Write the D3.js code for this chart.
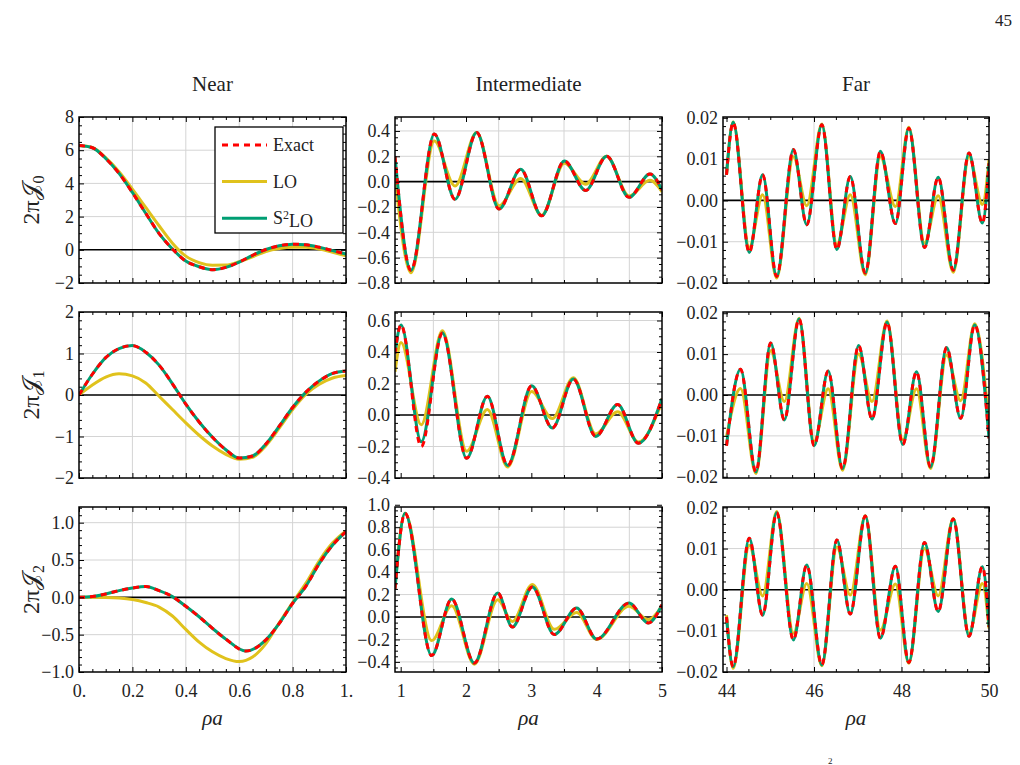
<!DOCTYPE html>
<meta charset="utf-8">
<title>Near / Intermediate / Far</title>
<style>
body { margin: 0; background: #fff; }
svg { font-family: "Liberation Serif", "DejaVu Serif", serif; }
.grid line { stroke: #d4d4d4; stroke-width: 1; }
.frame { fill: none; stroke: #000; stroke-width: 1.5; }
.zero { stroke: #000; stroke-width: 1.6; }
.axis text { font-family: "Liberation Serif", "DejaVu Serif", serif; font-size: 18px; fill: #222; }
.axis line { stroke: #000; stroke-width: 1; }
.lo { fill: none; stroke: #e0c21c; stroke-width: 3; }
.s2lo { fill: none; stroke: #009e73; stroke-width: 3; }
.exact { fill: none; stroke: #ff0000; stroke-width: 3; stroke-dasharray: 6,5; }
.title { font-size: 21px; text-anchor: middle; fill: #222; }
.xlab { font-size: 21px; font-style: italic; text-anchor: middle; fill: #222; }
.ylab { font-size: 24px; text-anchor: middle; fill: #222; }
.leg { font-size: 18px; fill: #222; }
</style>
<body>
<script src="https://d3js.org/d3.v7.min.js"></script>
<script>

// ---- data ----
var columns = ["Near", "Intermediate", "Far"];

// near field, 0 <= rho a <= 1
var nearX = [0, 0.05, 0.1, 0.15, 0.2, 0.25, 0.3, 0.35, 0.4, 0.45, 0.5,
             0.55, 0.6, 0.65, 0.7, 0.75, 0.8, 0.85, 0.9, 0.95, 1];
var nearJ0Exact = [6.28, 6.15, 5.5, 4.6, 3.45, 2.2, 0.98, 0.05, -0.68, -1.02, -1.2,
                   -1.06, -0.74, -0.33, 0.02, 0.24, 0.34, 0.3, 0.15, -0.05, -0.25];
var nearJ0LO = [6.28, 6.16, 5.55, 4.7, 3.65, 2.55, 1.45, 0.4, -0.38, -0.77, -0.93,
                -0.92, -0.72, -0.42, -0.1, 0.08, 0.16, 0.16, 0.05, -0.15, -0.36];
var nearJ1Exact = [0, 0.5, 0.9, 1.12, 1.19, 1.03, 0.72, 0.27, -0.22, -0.65, -1.02,
                   -1.32, -1.52, -1.47, -1.18, -0.75, -0.3, 0.07, 0.34, 0.52, 0.58];
var nearJ1LO = [0, 0.24, 0.43, 0.51, 0.46, 0.29, -0.03, -0.35, -0.67, -0.97, -1.23,
                -1.43, -1.55, -1.5, -1.22, -0.8, -0.35, 0.02, 0.26, 0.41, 0.47];
// J2 exact has its minimum between the regular samples
var nearJ2X = [0, 0.05, 0.1, 0.15, 0.2, 0.25, 0.3, 0.35, 0.4, 0.45, 0.5,
               0.55, 0.625, 0.7, 0.75, 0.8, 0.85, 0.9, 0.95, 1];
var nearJ2Exact = [0, 0.01, 0.045, 0.09, 0.125, 0.145, 0.09, 0.01, -0.12, -0.26, -0.415,
                   -0.56, -0.72, -0.57, -0.35, -0.08, 0.15, 0.455, 0.7, 0.88];
var nearJ2LO = [0, 0, -0.002, -0.01, -0.03, -0.07, -0.13, -0.25, -0.43, -0.6, -0.73,
                -0.82, -0.86, -0.8, -0.62, -0.34, -0.07, 0.19, 0.49, 0.73, 0.89];

// intermediate field: turning points of the curves
var intJ0X = [0.913, 1.158, 1.515, 1.832, 2.163, 2.505, 2.837, 3.158, 3.505, 3.832, 4.153, 4.495, 4.816, 5.0];
var intJ0Exact = [0.2, -0.70, 0.376, -0.14, 0.387, -0.216, 0.097, -0.27, 0.163, -0.07, 0.2, -0.124, 0.06, -0.066];
var intJ0LO = [0.04, -0.72, 0.32, -0.035, 0.387, -0.19, 0.025, -0.265, 0.145, -0.02, 0.2, -0.113, 0.01, -0.08];

var intJ1X = [0.913, 1.005, 1.315, 1.638, 2.01, 2.327, 2.638, 3.005, 3.321, 3.643, 3.985, 4.321, 4.638, 5.0];
var intJ1Exact = [0.39, 0.572, -0.2, 0.52, -0.275, 0.119, -0.32, 0.185, -0.083, 0.228, -0.136, 0.066, -0.179, 0.104];
var intJ1S2LO = [0.39, 0.572, -0.17, 0.52, -0.275, 0.119, -0.32, 0.185, -0.083, 0.228, -0.136, 0.066, -0.179, 0.104];
var intJ1LO = [0.274, 0.46, -0.062, 0.535, -0.23, 0.035, -0.33, 0.15, -0.023, 0.236, -0.12, 0.02, -0.172, 0.083];

var intJ2X = [0.913, 1.066, 1.474, 1.781, 2.128, 2.485, 2.709, 3.015, 3.352, 3.694, 4.0, 4.495, 4.791, 5.0];
var intJ2Exact = [0.25, 0.924, -0.344, 0.16, -0.41, 0.213, -0.09, 0.267, -0.157, 0.08, -0.196, 0.124, -0.053, 0.11];
var intJ2LO = [0.27, 0.924, -0.21, 0.1, -0.42, 0.154, -0.04, 0.29, -0.11, 0.04, -0.2, 0.095, -0.024, 0.1];

// far field: turning points of the curves
var farJ0X = [44.0, 44.153, 44.52, 44.826, 45.147, 45.529, 45.835, 46.179, 46.523, 46.829,
              47.173, 47.517, 47.861, 48.167, 48.526, 48.839, 49.183, 49.543, 49.849, 50.0];
var farJ0Exact = [0.0062, 0.0189, -0.0126, 0.0062, -0.0184, 0.0123, -0.0059, 0.0183, -0.0119, 0.0058,
                  -0.0176, 0.0119, -0.0056, 0.0175, -0.0114, 0.0056, -0.0169, 0.0115, -0.0055, 0.009];
var farJ0LO = [0.0062, 0.019, -0.0114, 0.0014, -0.0188, 0.0106, -0.0013, 0.0185, -0.0107, 0.0014,
               -0.018, 0.0106, -0.0015, 0.0177, -0.0103, 0.0011, -0.0174, 0.0106, -0.001, 0.0098];

var farJ1X = [44.0, 44.321, 44.673, 45.009, 45.323, 45.659, 46.003, 46.324, 46.653, 47.02,
              47.326, 47.67, 48.029, 48.343, 48.664, 49.031, 49.352, 49.673, 50.0];
var farJ1Exact = [-0.0124, 0.0063, -0.0188, 0.0127, -0.0061, 0.0186, -0.0124, 0.0059, -0.018, 0.0121,
                  -0.0059, 0.0178, -0.0121, 0.0057, -0.0176, 0.0116, -0.0057, 0.0171, -0.0106];
var farJ1LO = [-0.0102, 0.0016, -0.0192, 0.0108, -0.0016, 0.0188, -0.0114, 0.0015, -0.0184, 0.01,
               -0.0016, 0.0181, -0.011, 0.0015, -0.018, 0.0098, -0.0014, 0.0174, -0.007];

var farJ2X = [44.0, 44.153, 44.52, 44.826, 45.147, 45.529, 45.835, 46.179, 46.523, 46.829,
              47.173, 47.517, 47.861, 48.167, 48.526, 48.839, 49.183, 49.543, 49.849, 50.0];
var farJ2Exact = [-0.0066, -0.0187, 0.0125, -0.0062, 0.0187, -0.0122, 0.006, -0.0183, 0.0121, -0.0059,
                  0.0179, -0.0118, 0.0057, -0.0177, 0.0115, -0.0053, 0.0172, -0.0113, 0.0056, -0.009];
var farJ2LO = [-0.0062, -0.0191, 0.0108, -0.0015, 0.019, -0.0106, 0.0015, -0.0185, 0.0104, -0.0013,
               0.018, -0.0098, 0.0014, -0.0179, 0.01, -0.0015, 0.0173, -0.0106, 0.0015, -0.0094];

// tick values
var nearXTicks = [0, 0.2, 0.4, 0.6, 0.8, 1];
var intXTicks = [1, 2, 3, 4, 5];
var farXTicks = [44, 46, 48, 50];
var nearJ0YTicks = [-2, 0, 2, 4, 6, 8];
var nearJ1YTicks = [-2, -1, 0, 1, 2];
var nearJ2YTicks = [-1, -0.5, 0, 0.5, 1];
var intJ0YTicks = [-0.8, -0.6, -0.4, -0.2, 0, 0.2, 0.4];
var intJ1YTicks = [-0.4, -0.2, 0, 0.2, 0.4, 0.6];
var intJ2YTicks = [-0.4, -0.2, 0, 0.2, 0.4, 0.6, 0.8, 1.0];
var farYTicks = [-0.02, -0.01, 0, 0.01, 0.02];

// ---- layout ----
var colLeft = [79, 395, 723], colRight = [346, 662, 989];
var rowTop = [117, 312, 507], rowBottom = [283, 478, 672];

var fmt1 = d3.format(".1f"), fmt2 = d3.format(".2f"), fmtD = d3.format("d");

var cols = [
  {domain: [0, 1], major: nearXTicks, minor: 0.05, grid: [0.2, 0.4, 0.6, 0.8],
   fmt: function(d) { return d === 0 ? "0." : d === 1 ? "1." : fmt1(d); }},
  {domain: [0.913, 5], major: intXTicks, minor: 0.5, grid: [1.5, 2.5, 3.5, 4.5], fmt: fmtD},
  {domain: [43.92, 50], major: farXTicks, minor: 0.5, grid: [46, 48], fmt: fmtD}
];

// xe: x values of the exact / S2LO curves when they differ from those of LO
var panels = [
  {r: 0, c: 0, yd: [-2, 8], yt: nearJ0YTicks, ym: 0.5, f: fmtD, xs: nearX, lo: nearJ0LO, s2: nearJ0Exact, ex: nearJ0Exact},
  {r: 0, c: 1, yd: [-0.8, 0.51], yt: intJ0YTicks, ym: 0.05, f: fmt1, xs: intJ0X, lo: intJ0LO, s2: intJ0Exact, ex: intJ0Exact},
  {r: 0, c: 2, yd: [-0.02, 0.0202], yt: farYTicks, ym: 0.002, f: fmt2, xs: farJ0X, lo: farJ0LO, s2: farJ0Exact, ex: farJ0Exact},
  {r: 1, c: 0, yd: [-2, 2], yt: nearJ1YTicks, ym: 0.2, f: fmtD, xs: nearX, lo: nearJ1LO, s2: nearJ1Exact, ex: nearJ1Exact},
  {r: 1, c: 1, yd: [-0.4, 0.654], yt: intJ1YTicks, ym: 0.05, f: fmt1, xs: intJ1X, lo: intJ1LO, s2: intJ1S2LO, ex: intJ1Exact},
  {r: 1, c: 2, yd: [-0.0203, 0.0203], yt: farYTicks, ym: 0.002, f: fmt2, xs: farJ1X, lo: farJ1LO, s2: farJ1Exact, ex: farJ1Exact},
  {r: 2, c: 0, yd: [-1, 1.21], yt: nearJ2YTicks, ym: 0.1, f: fmt1, xs: nearX, xe: nearJ2X, lo: nearJ2LO, s2: nearJ2Exact, ex: nearJ2Exact},
  {r: 2, c: 1, yd: [-0.49, 0.98], yt: intJ2YTicks, ym: 0.05, f: fmt1, xs: intJ2X, lo: intJ2LO, s2: intJ2Exact, ex: intJ2Exact},
  {r: 2, c: 2, yd: [-0.02, 0.0201], yt: farYTicks, ym: 0.002, f: fmt2, xs: farJ2X, lo: farJ2LO, s2: farJ2Exact, ex: farJ2Exact}
];

var svg = d3.select("body").append("svg")
    .attr("width", 1020)
    .attr("height", 765);

// minor tick positions between majors
function minors(domain, step, major) {
  var lo = Math.ceil(domain[0] / step - 1e-6) * step;
  return d3.range(lo, domain[1] + step * 1e-3, step).filter(function(v) {
    return !major.some(function(m) { return Math.abs(m - v) < step * 1e-3; });
  });
}

function clean(sel) { sel.select(".domain").remove(); sel.attr("font-size", null).attr("font-family", null); }

panels.forEach(function(p, i) {
  var col = cols[p.c];
  var x0 = colLeft[p.c], x1 = colRight[p.c], y0 = rowBottom[p.r], y1 = rowTop[p.r];
  var x = d3.scaleLinear().domain(col.domain).range([x0, x1]);
  var y = d3.scaleLinear().domain(p.yd).range([y0, y1]);
  var g = svg.append("g");

  g.append("clipPath").attr("id", "clip" + i)
    .append("rect").attr("x", x0).attr("y", y1).attr("width", x1 - x0).attr("height", y0 - y1);

  // grid lines
  var grid = g.append("g").attr("class", "grid");
  grid.selectAll(".gx").data(col.grid).join("line")
      .attr("x1", function(d) { return x(d); }).attr("x2", function(d) { return x(d); })
      .attr("y1", y0).attr("y2", y1);
  var gy = p.yt.filter(function(d) { return d !== 0 && y(d) > y1 + 2 && y(d) < y0 - 2; });
  grid.selectAll(".gy").data(gy).join("line")
      .attr("x1", x0).attr("x2", x1)
      .attr("y1", function(d) { return y(d); }).attr("y2", function(d) { return y(d); });

  // zero axis
  g.append("line").attr("class", "zero")
      .attr("x1", x0).attr("x2", x1).attr("y1", y(0)).attr("y2", y(0));

  // curves
  var line = d3.line()
      .x(function(d) { return x(d[0]); })
      .y(function(d) { return y(d[1]); })
      .curve(d3.curveMonotoneX);
  var xe = p.xe || p.xs;
  var cg = g.append("g").attr("clip-path", "url(#clip" + i + ")");
  cg.append("path").attr("class", "lo").attr("d", line(d3.zip(p.xs, p.lo)));
  cg.append("path").attr("class", "s2lo").attr("d", line(d3.zip(xe, p.s2)));
  cg.append("path").attr("class", "exact").attr("d", line(d3.zip(xe, p.ex)));

  // ticks on all four sides, pointing inwards
  var ymin = minors(p.yd, p.ym, p.yt), xmin = minors(col.domain, col.minor, col.major);
  var ax = g.append("g").attr("class", "axis");
  ax.append("g").attr("transform", "translate(" + x0 + ",0)")
    .call(d3.axisLeft(y).tickValues(p.yt).tickSize(-5).tickPadding(5).tickFormat(p.f)).call(clean);
  ax.append("g").attr("transform", "translate(" + x0 + ",0)")
    .call(d3.axisLeft(y).tickValues(ymin).tickSize(-3).tickFormat("")).call(clean);
  ax.append("g").attr("transform", "translate(" + x1 + ",0)")
    .call(d3.axisRight(y).tickValues(p.yt).tickSize(-5).tickFormat("")).call(clean);
  ax.append("g").attr("transform", "translate(" + x1 + ",0)")
    .call(d3.axisRight(y).tickValues(ymin).tickSize(-3).tickFormat("")).call(clean);
  ax.append("g").attr("transform", "translate(0," + y0 + ")")
    .call(d3.axisBottom(x).tickValues(col.major).tickSize(-5).tickPadding(12)
      .tickFormat(p.r === 2 ? col.fmt : "")).call(clean);
  ax.append("g").attr("transform", "translate(0," + y0 + ")")
    .call(d3.axisBottom(x).tickValues(xmin).tickSize(-3).tickFormat("")).call(clean);
  ax.append("g").attr("transform", "translate(0," + y1 + ")")
    .call(d3.axisTop(x).tickValues(col.major).tickSize(-5).tickFormat("")).call(clean);
  ax.append("g").attr("transform", "translate(0," + y1 + ")")
    .call(d3.axisTop(x).tickValues(xmin).tickSize(-3).tickFormat("")).call(clean);

  g.append("rect").attr("class", "frame")
      .attr("x", x0).attr("y", y1).attr("width", x1 - x0).attr("height", y0 - y1);
});

// column titles and x labels
columns.forEach(function(name, c) {
  var cx = (colLeft[c] + colRight[c]) / 2;
  svg.append("text").attr("class", "title").attr("x", cx).attr("y", 91).text(name);
  svg.append("text").attr("class", "xlab").attr("x", cx).attr("y", 725).text("ρa");
});

// row labels 2πJ_n
[0, 1, 2].forEach(function(n) {
  var cy = (rowTop[n] + rowBottom[n]) / 2;
  var t = svg.append("text").attr("class", "ylab")
      .attr("transform", "translate(39," + cy + ") rotate(-90)");
  t.append("tspan").text("2π");
  t.append("tspan").text("𝒥");
  t.append("tspan").attr("dy", "0.3em").attr("font-size", "16px").text(n);
});

// legend
var legendItems = [
  {label: "Exact", cls: "exact"},
  {label: "LO", cls: "lo"},
  {label: "S2LO", cls: "s2lo"}
];
var leg = svg.append("g");
leg.append("rect").attr("x", 215).attr("y", 127).attr("width", 128).attr("height", 106)
    .attr("fill", "#fff").attr("stroke", "#000").attr("stroke-width", 1.3);
legendItems.forEach(function(d, i) {
  var ly = 145 + i * 36.6;
  leg.append("line").attr("class", d.cls)
      .attr("x1", 222).attr("x2", 267).attr("y1", ly).attr("y2", ly);
  var t = leg.append("text").attr("class", "leg").attr("x", 273).attr("y", ly + 6);
  if (d.label === "S2LO") {
    t.append("tspan").text("S");
    t.append("tspan").attr("dy", "-0.45em").attr("font-size", "12px").text("2");
    t.append("tspan").attr("dy", "0.45em").text("LO");
  } else {
    t.text(d.label);
  }
});

// page number and caption fragment at the page foot
svg.append("text").attr("x", 1012).attr("y", 26).attr("text-anchor", "end")
    .attr("font-size", "17px").attr("fill", "#222").text("45");
svg.append("text").attr("x", 828).attr("y", 764).attr("font-size", "9px").attr("fill", "#222").text("2");

</script>
</body>
